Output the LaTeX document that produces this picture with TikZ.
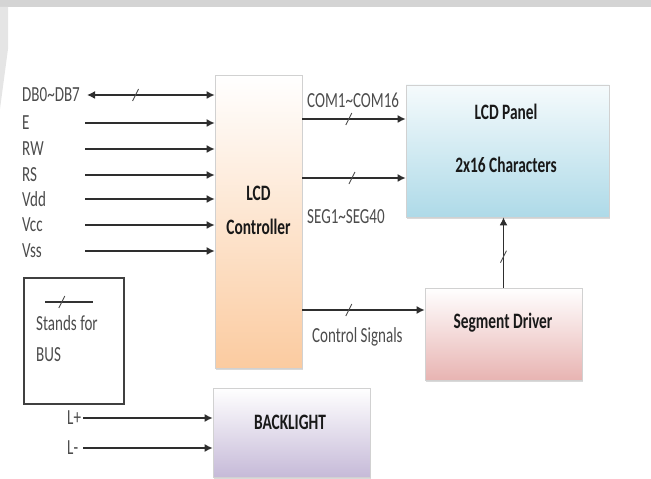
\documentclass[tikz,border=0pt]{standalone}
\usepackage{fontspec}
\setmainfont{Carlito}[FakeStretch=0.7]
\usetikzlibrary{arrows.meta,decorations.markings,shadows}

\definecolor{ctrlc}{HTML}{FBCBA0}
\definecolor{panelc}{HTML}{AEDAE8}
\definecolor{segc}{HTML}{E8B4B2}
\definecolor{backc}{HTML}{C6BAD8}
\definecolor{wirec}{HTML}{2E2E2E}

\tikzset{
    blk/.style={draw=black!18, line width=0.6pt,
        drop shadow={opacity=0.3, shadow xshift=0.8pt, shadow yshift=-1.6pt}},
    wire/.style={draw=wirec, line width=1.5pt, ->},
    sig/.style={text=black!70, font=\fontsize{21.5}{24}\selectfont, inner sep=0pt, anchor=west},
    boxtxt/.style={text=black!90, font=\bfseries\fontsize{22}{24}\selectfont, inner sep=0pt, align=center},
    bus/.style={postaction={decorate}, decoration={markings,
        mark=at position #1 with {\draw[-, line width=0.9pt, black!70] (-3pt,-6pt) -- (3pt,6pt);}}},
    vbus/.style={postaction={decorate}, decoration={markings,
        mark=at position #1 with {\draw[-, line width=0.9pt, black!70] (-6pt,3pt) -- (6pt,-3pt);}}}
}

\begin{document}
\begin{tikzpicture}[x=1pt, y=1pt, >={Latex[length=8pt,width=8pt]}]
    \useasboundingbox (0,0) rectangle (651,479);
    \fill[black!17] (0,472) rectangle (651,479);
    \fill[black!10] (0,472) -- (8,472) -- (8,430) -- (0,370) -- cycle;

    \node[blk, top color=white, bottom color=ctrlc, minimum width=87, minimum height=293] (ctrl) at (258.5,257.5) {};
    \node[blk, top color=panelc!12, bottom color=panelc, minimum width=203, minimum height=132] (panel) at (507.5,328) {};
    \node[blk, top color=white, bottom color=segc, minimum width=157, minimum height=92] (segdrv) at (503.5,145) {};
    \node[blk, top color=white, bottom color=backc, minimum width=157, minimum height=89] (backlight) at (291.5,46.5) {};
    \node[draw=black!75, line width=1.2pt, minimum width=100, minimum height=126] (legend) at (74,138) {};

    \node[boxtxt] (ctrl-t) at (258.5,269) {LCD\\[10pt]Controller};
    \node[boxtxt] (panel-t) at (506,340.5) {LCD Panel\\[29pt]2x16 Characters};
    \node[boxtxt] (segdrv-t) at (503,156) {Segment Driver};
    \node[boxtxt] (backlight-t) at (290,57) {BACKLIGHT};

    \coordinate (leg-a) at (45,177);
    \coordinate (leg-b) at (93,177);
    \draw[draw=black!80, line width=1.2pt, bus=0.35] (leg-a) -- (leg-b);
    \node[sig] (stands) at (36,156) {Stands for};
    \node[sig] (busname) at (36,124) {BUS};

    \node[sig] (db) at (22,384) {DB0\textasciitilde DB7};
    \node[sig] (en) at (22,356) {E};
    \node[sig] (rw) at (22,330) {RW};
    \node[sig] (rs) at (22,304) {RS};
    \node[sig] (vdd) at (22,280) {Vdd};
    \node[sig] (vcc) at (22,254) {Vcc};
    \node[sig] (vss) at (22,228) {Vss};

    \coordinate (db-s) at (87,384);
    \coordinate (en-s) at (85,356);
    \coordinate (rw-s) at (85,330);
    \coordinate (rs-s) at (85,304);
    \coordinate (vdd-s) at (85,280);
    \coordinate (vcc-s) at (85,254);
    \coordinate (vss-s) at (85,228);
    \draw[wire, <->, bus=0.38] (db-s) -- (db-s -| ctrl.west);
    \draw[wire] (en-s) -- (en-s -| ctrl.west);
    \draw[wire] (rw-s) -- (rw-s -| ctrl.west);
    \draw[wire] (rs-s) -- (rs-s -| ctrl.west);
    \draw[wire] (vdd-s) -- (vdd-s -| ctrl.west);
    \draw[wire] (vcc-s) -- (vcc-s -| ctrl.west);
    \draw[wire] (vss-s) -- (vss-s -| ctrl.west);

    \coordinate (com) at (350,360);
    \coordinate (seg) at (350,301);
    \coordinate (cs) at (350,169);
    \draw[wire, bus=0.45] (com -| ctrl.east) -- (com -| panel.west);
    \draw[wire, bus=0.48] (seg -| ctrl.east) -- (seg -| panel.west);
    \draw[wire, bus=0.38] (cs -| ctrl.east) -- (cs -| segdrv.west);
    \draw[wire, vbus=0.44] (segdrv.north) -- (segdrv.north |- panel.south);
    \node[sig] (com-l) at (307,379) {COM1\textasciitilde COM16};
    \node[sig] (seg-l) at (307,262) {SEG1\textasciitilde SEG40};
    \node[sig] (cs-l) at (312,142) {Control Signals};

    \node[sig] (lp) at (67,61) {L+};
    \node[sig] (lm) at (67,31) {L-};
    \coordinate (lp-s) at (83,61);
    \coordinate (lm-s) at (83,31);
    \draw[wire] (lp-s) -- (lp-s -| backlight.west);
    \draw[wire] (lm-s) -- (lm-s -| backlight.west);
\end{tikzpicture}
\end{document}
